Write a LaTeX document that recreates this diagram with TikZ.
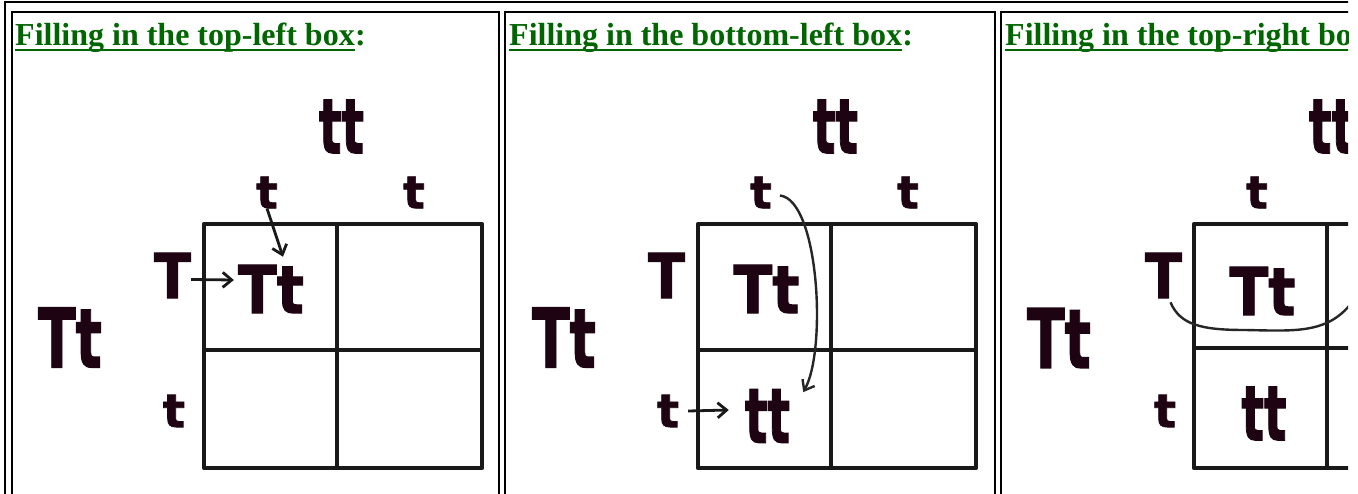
\documentclass[tikz,border=0pt]{standalone}
\usepackage{fontspec}
\usepackage{graphicx}
\usepackage{xcolor}
\usepackage{tikz}
\usetikzlibrary{arrows.meta,positioning,calc}
\newfontfamily\headfont{Liberation Serif}
\newfontfamily\genfont[BoldFeatures={FakeBold=1.6}]{DejaVu Sans}
\definecolor{headgreen}{RGB}{0,102,0}
\definecolor{genink}{RGB}{30,4,18}
\newcommand\gen[3]{{\fontsize{#1}{#1}\selectfont\scalebox{#2}[1]{#3}}}

\begin{document}
\begin{tikzpicture}[
        x=1pt, y=-1pt,
        head/.style={inner sep=0pt, anchor=base west, text=headgreen, font=\headfont\bfseries\fontsize{32}{38}\selectfont},
        uline/.style={draw=headgreen, line width=1.5pt},
        gen/.style={inner sep=0pt, text=genink, font=\genfont\bfseries},
        frame/.style={draw=black, line width=2pt},
        sq/.style={draw=black!90, line width=4.5pt, line join=round},
        arr/.style={-{Straight Barb[length=9pt,width=15pt]}, line width=2.8pt, draw=black!90},
        bendarr/.style={-{Straight Barb[length=9pt,width=14pt]}, line width=2.4pt, draw=black!85},
        curv/.style={line width=2.4pt, draw=black!85},
    ]
        \useasboundingbox (0,0) rectangle (1358,494);
        \fill[white] (0,0) rectangle (1358,494);

        \begin{scope}
        \clip (0,0) rectangle (1348,494);

        % Table borders
        \draw[frame] (5,500) -- (5,2) -- (1360,2);
        \draw[frame] (12,500) -- (12,12) -- (499,12) -- (499,500);
        \draw[frame] (505,500) -- (505,12) -- (995,12) -- (995,500);
        \draw[frame] (1001,500) -- (1001,12) -- (1360,12);

        % Panel 1
        \node[head] (h1) at (15,46) {Filling in the top-left box};
        \node[head] (c1) at (h1.base east) {:};
        \draw[uline] ([yshift=-4pt]h1.base west) -- ([yshift=-4pt]h1.base east);

        \node[gen] (p1tt) at (341.5,126.5) {\gen{76}{0.62}{tt}};
        \node[gen] (p1ta) at (267,192.5) {\gen{45}{1}{t}};
        \node[gen] (p1tb) at (414,192.5) {\gen{45}{1}{t}};
        \node[gen] (p1T) at (172.5,275.5) {\gen{62}{0.87}{T}};
        \node[gen] (p1Tt) at (271,289) {\gen{66}{0.86}{Tt}};
        \node[gen] (p1big) at (70,337.5) {\gen{82}{0.67}{Tt}};
        \node[gen] (p1tr) at (174,411) {\gen{46}{1}{t}};

        \draw[sq] (204,224) rectangle (482,468);
        \draw[sq] (337,224) -- (337,468);
        \draw[sq] (204,350) -- (482,350);

        \draw[arr] ($(p1T.east)+(0,4)$) -- ($(p1Tt.west)+(-4,-9)$);
        \draw[arr] (p1ta.south) -- ($(p1Tt.north)+(12,-8)$);

        % Panel 2
        \begin{scope}[xshift=494pt]
        \node[head] (h2) at (15,46) {Filling in the bottom-left box};
        \node[head] (c2) at (h2.base east) {:};
        \draw[uline] ([yshift=-4pt]h2.base west) -- ([yshift=-4pt]h2.base east);

        \node[gen] (p2tt) at (341.5,126.5) {\gen{76}{0.62}{tt}};
        \node[gen] (p2ta) at (267,192.5) {\gen{45}{1}{t}};
        \node[gen] (p2tb) at (414,192.5) {\gen{45}{1}{t}};
        \node[gen] (p2T) at (172.5,275.5) {\gen{62}{0.87}{T}};
        \node[gen] (p2Tt) at (272.5,289) {\gen{66}{0.86}{Tt}};
        \node[gen] (p2big) at (70,337.5) {\gen{82}{0.67}{Tt}};
        \node[gen] (p2tr) at (174,411) {\gen{46}{1}{t}};
        \node[gen] (p2tt2) at (273.5,416) {\gen{76}{0.62}{tt}};

        \draw[sq] (204,224) rectangle (482,468);
        \draw[sq] (337,224) -- (337,468);
        \draw[sq] (204,350) -- (482,350);

        \draw[arr] ($(p2tr.east)+(9,0)$) -- ($(p2tt2.west)+(-16,-6)$);
        \draw[bendarr] ($(p2ta.east)+(8,3)$) .. controls (325,200) and (333,350) .. ($(p2tt2.north east)+(13,3)$);
        \end{scope}

        % Panel 3 (cut at the right edge)
        \begin{scope}[xshift=990pt]
        \node[head] (h3) at (15,46) {Filling in the top-right box};
        \node[head] (c3) at (h3.base east) {:};
        \draw[uline] ([yshift=-4pt]h3.base west) -- ([yshift=-4pt]h3.base east);

        \node[gen] (p3tt) at (341.5,126.5) {\gen{76}{0.62}{tt}};
        \node[gen] (p3ta) at (267,192.5) {\gen{45}{1}{t}};
        \node[gen] (p3T) at (173.5,275.5) {\gen{62}{0.87}{T}};
        \node[gen] (p3Tt) at (272.5,291) {\gen{66}{0.86}{Tt}};
        \node[gen] (p3big) at (69,338) {\gen{82}{0.67}{Tt}};
        \node[gen] (p3tr) at (175,411) {\gen{46}{1}{t}};
        \node[gen] (p3tt2) at (274,413.5) {\gen{76}{0.62}{tt}};
        \coordinate (p3end) at (370,290);

        \draw[sq] (204,224) rectangle (482,468);
        \draw[sq] (337,224) -- (337,468);
        \draw[sq] (204,348) -- (482,348);

        \draw[curv] ($(p3T.south)+(7,4)$) .. controls (190,325) and (212,330) .. (255,330)
            .. controls (310,331) and (345,335) .. (p3end);
        \end{scope}
        \end{scope}
    \end{tikzpicture}
\end{document}
